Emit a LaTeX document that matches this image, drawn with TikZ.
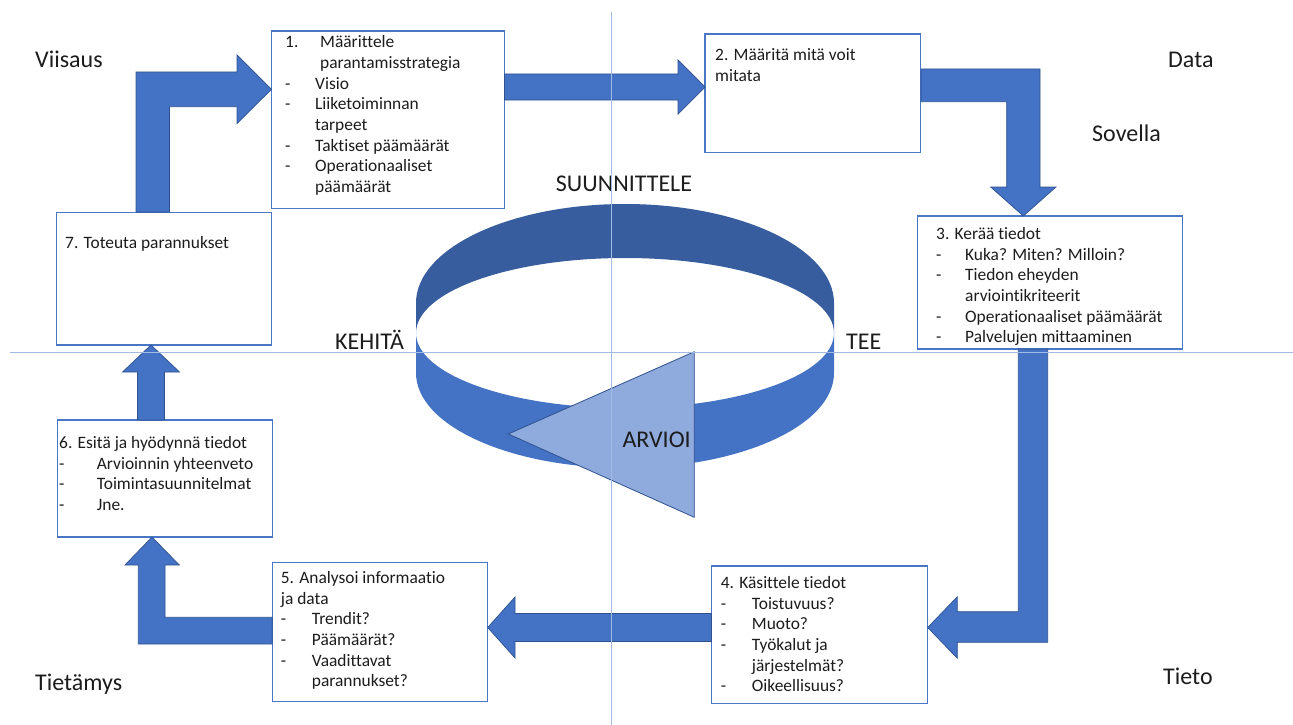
\documentclass[tikz,border=0pt]{standalone}
\usepackage{fontspec}
\setmainfont{Carlito}[Ligatures=NoCommon]
\usetikzlibrary{calc}

\definecolor{ink}{HTML}{1C1C1C}
\definecolor{boxblue}{HTML}{4A76C6}
\definecolor{arrowblue}{HTML}{4472C4}
\definecolor{arrowedge}{HTML}{2F528F}
\definecolor{ringdark}{HTML}{375D9F}
\definecolor{ringlight}{HTML}{4472C4}
\definecolor{trifill}{HTML}{8FAADC}
\definecolor{guide}{HTML}{A3BBE4}

\tikzset{
  stepbox/.style={draw=boxblue, line width=1.1pt, fill=white, inner sep=0pt},
  boxtext/.style={anchor=base west, inner sep=0pt, text=ink,
    font=\fontsize{17.4}{20.7}\selectfont},
  biglabel/.style={anchor=base west, inner sep=0pt, text=ink,
    font=\fontsize{24}{28}\selectfont},
  blockarrow/.style={fill=arrowblue, draw=arrowedge, line width=0.7pt, line join=miter},
  guideline/.style={draw=guide, line width=0.9pt}
}

\newcommand{\dashitem}[2]{\makebox[#1][l]{-}#2}

\begin{document}
\begin{tikzpicture}[x=1pt, y=1pt]
\useasboundingbox (0,0) rectangle (1293,-725);

% ---------- step boxes ----------
\node[stepbox, minimum width=232.6pt, minimum height=177.3pt] (b1) at (388,-119.65) {};
\node[stepbox, minimum width=215.7pt, minimum height=118.3pt] (b2) at (812.85,-93.15) {};
\node[stepbox, minimum width=265pt,   minimum height=133pt]   (b3) at (1049.8,-282.5) {};
\node[stepbox, minimum width=216pt,   minimum height=137.3pt] (b4) at (819.7,-634.65) {};
\node[stepbox, minimum width=215.4pt, minimum height=139.4pt] (b5) at (380,-632) {};
\node[stepbox, minimum width=215pt,   minimum height=117pt]   (b6) at (164.8,-478.5) {};
\node[stepbox, minimum width=215pt,   minimum height=132.7pt] (b7) at (164.2,-278.65) {};

% ---------- box texts ----------
\node[boxtext] (t1) at (285,-47.7) {\parbox[t]{215pt}{%
  \makebox[35pt][l]{1.}Määrittele\\
  \hspace*{35pt}parantamisstrategia\\
  \dashitem{30pt}{Visio}\\
  \dashitem{30pt}{Liiketoiminnan}\\
  \hspace*{30pt}tarpeet\\
  \dashitem{30pt}{Taktiset päämäärät}\\
  \dashitem{30pt}{Operationaaliset}\\
  \hspace*{30pt}päämäärät}};

\node[boxtext] (t2) at (715,-61) {\parbox[t]{200pt}{%
  2. Määritä mitä voit\\
  mitata}};

\node[boxtext] (t3) at (936,-239.3) {\parbox[t]{245pt}{%
  3. Kerää tiedot\\
  \dashitem{29pt}{Kuka? Miten? Milloin?}\\
  \dashitem{29pt}{Tiedon eheyden}\\
  \hspace*{29pt}arviointikriteerit\\
  \dashitem{29pt}{Operationaaliset päämäärät}\\
  \dashitem{29pt}{Palvelujen mittaaminen}}};

\node[boxtext] (t4) at (720.7,-588.3) {\parbox[t]{200pt}{%
  4. Käsittele tiedot\\
  \dashitem{31pt}{Toistuvuus?}\\
  \dashitem{31pt}{Muoto?}\\
  \dashitem{31pt}{Työkalut ja}\\
  \hspace*{31pt}järjestelmät?\\
  \dashitem{31pt}{Oikeellisuus?}}};

\node[boxtext] (t5) at (280.7,-583.3) {\parbox[t]{200pt}{%
  5. Analysoi informaatio\\
  ja data\\
  \dashitem{31pt}{Trendit?}\\
  \dashitem{31pt}{Päämäärät?}\\
  \dashitem{31pt}{Vaadittavat}\\
  \hspace*{31pt}parannukset?}};

\node[boxtext] (t6) at (59,-448.3) {\parbox[t]{210pt}{%
  6. Esitä ja hyödynnä tiedot\\
  \dashitem{37.7pt}{Arvioinnin yhteenveto}\\
  \dashitem{37.7pt}{Toimintasuunnitelmat}\\
  \dashitem{37.7pt}{Jne.}}};

\node[boxtext] (t7) at (65,-248.3) {7. Toteuta parannukset};

% ---------- block arrows between the steps ----------
% 7 -> 1
\draw[blockarrow] (136,-212) -- (136,-72) -- (237,-72) -- (237,-55)
  -- (271.5,-89.3) -- (237,-123.6) -- (237,-106.7) -- (169.5,-106.7)
  -- (169.5,-212) -- cycle;
% 1 -> 2
\draw[blockarrow] (504.5,-74) -- (678,-74) -- (678,-60) -- (705,-87)
  -- (678,-114) -- (678,-100) -- (504.5,-100) -- cycle;
% 2 -> 3
\draw[blockarrow] (921,-69) -- (1040,-69) -- (1040,-187) -- (1056,-187)
  -- (1023.3,-216) -- (990.7,-187) -- (1006.7,-187) -- (1006.7,-101.7)
  -- (921,-101.7) -- cycle;
% 3 -> 4
\draw[blockarrow] (1018.3,-349) -- (1047.7,-349) -- (1047.7,-642.3)
  -- (957.3,-642.3) -- (957.3,-658.3) -- (927.7,-627.5) -- (957.3,-596.7)
  -- (957.3,-611.7) -- (1018.3,-611.7) -- cycle;
% 4 -> 5
\draw[blockarrow] (711.5,-613.5) -- (515,-613.5) -- (515,-597) -- (487.7,-627.5)
  -- (515,-658) -- (515,-641.5) -- (711.5,-641.5) -- cycle;
% 5 -> 6
\draw[blockarrow] (272.3,-617.3) -- (165,-617.3) -- (165,-565) -- (179.3,-565)
  -- (152,-537) -- (125,-565) -- (138.3,-565) -- (138.3,-644)
  -- (272.3,-644) -- cycle;
% 6 -> 7
\draw[blockarrow] (137.5,-420) -- (137.5,-372) -- (122.5,-372) -- (151,-345)
  -- (179.5,-372) -- (164.5,-372) -- (164.5,-420) -- cycle;

% ---------- central cycle ring ----------
\fill[ringdark] (416,-303) arc[start angle=180, end angle=0, x radius=209pt, y radius=99pt]
  -- (834,-333) arc[start angle=0, end angle=180, x radius=209pt, y radius=75pt] -- cycle;
\fill[ringlight] (416,-333) arc[start angle=180, end angle=360, x radius=209pt, y radius=75pt]
  -- (834,-373) arc[start angle=0, end angle=-180, x radius=209pt, y radius=95pt] -- cycle;

% arrow head of the cycle
\draw[fill=trifill, draw=arrowedge, line width=0.8pt, line join=miter]
  (508.3,-434) -- (694.3,-351.7) -- (694.3,-517.3) -- cycle;

% ---------- labels ----------
\node[biglabel] (viisaus) at (35,-67) {Viisaus};
\node[biglabel] (data) at (1168,-67) {Data};
\node[biglabel] (sovella) at (1092,-141) {Sovella};
\node[biglabel] (tietamys) at (35,-690) {Tietämys};
\node[biglabel] (tieto) at (1163,-684) {Tieto};
\node[biglabel] (kehita) at (335,-349) {KEHITÄ};
\node[biglabel] (tee) at (846,-349) {TEE};
\node[biglabel, anchor=base] (suunn) at (624,-191.7) {SUUNNITTELE};
\node[biglabel] (arvioi) at (622.3,-447.3) {ARVIOI};

% ---------- quadrant guide lines ----------
\coordinate (hl) at (10,-352);
\coordinate (hr) at (1293,-352);
\coordinate (vt) at (611,-12);
\coordinate (vb) at (611,-725);
\draw[guideline] (hl) -- (hr);
\draw[guideline] (vt) -- (vb);
\end{tikzpicture}
\end{document}
